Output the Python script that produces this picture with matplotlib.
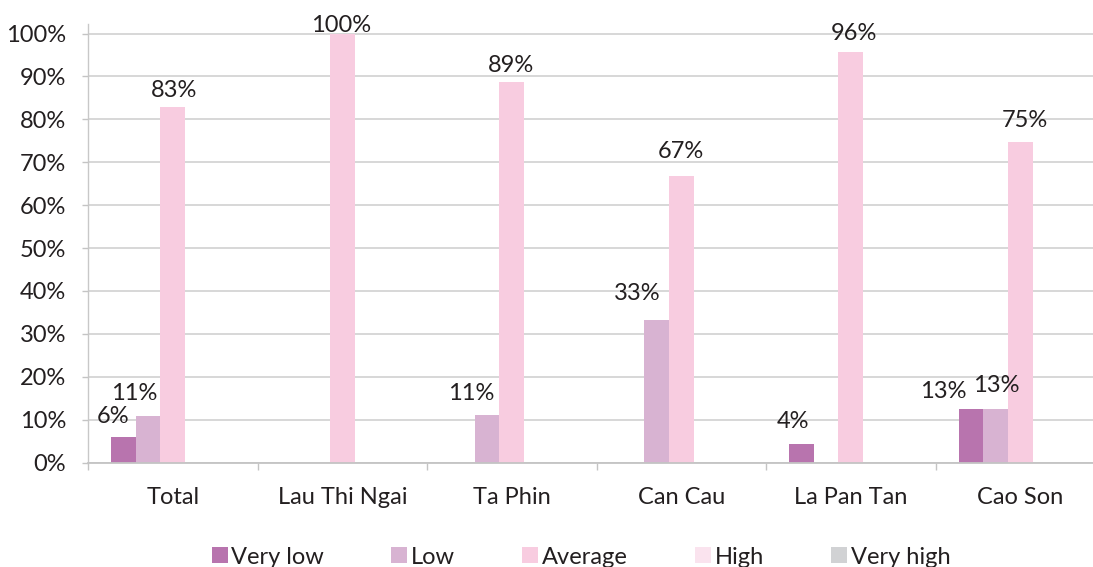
import matplotlib
matplotlib.use("Agg")
import matplotlib.pyplot as plt
from matplotlib.patches import Patch
from matplotlib.ticker import FixedLocator

# ---------------- data ----------------
categories = ["Total", "Lau Thi Ngai", "Ta Phin", "Can Cau", "La Pan Tan", "Cao Son"]
series_names = ["Very low", "Low", "Average", "High", "Very high"]
very_low = [5.9, 0, 0, 0, 4.4, 12.5]
low = [10.9, 0, 11.1, 33.3, 0, 12.5]
average = [82.9, 100, 88.7, 66.7, 95.8, 74.8]
high = [0, 0, 0, 0, 0, 0]
very_high = [0, 0, 0, 0, 0, 0]
y_ticks = list(range(0, 101, 10))

# ---------------- style ----------------
colors = ["#b874ae", "#d8b3d2", "#f8cce0", "#fae3ee", "#d1d2d4"]
text_color = "#231f20"
FONT = ["Lato", "DejaVu Sans"]
FS = 17
plt.rcParams["font.family"] = FONT

# label nudges (pixels) relative to the bar top centre: (series, category) -> (dx, dy)
label_nudge = {
    (0, 0): (-10, 21), (1, 0): (-14, 22), (2, 0): (1, 16),
    (2, 1): (-1, 8),
    (1, 2): (-16, 21), (2, 2): (-1, 17),
    (1, 3): (-19, 26), (2, 3): (0, 25),
    (0, 4): (-8, 22), (2, 4): (3, 18),
    (0, 5): (-28, 17), (1, 5): (1, 23), (2, 5): (5, 21),
}

W, H = 1093, 567
fig = plt.figure(figsize=(W / 100, H / 100), dpi=100)
ax = fig.add_axes([88 / W, 104.5 / H, 1017 / W, 438.6 / H])

series = [very_low, low, average, high, very_high]
bw = 0.1457
n = len(series)
for si, vals in enumerate(series):
    xs = [ci + (si - (n - 1) / 2) * bw for ci in range(len(categories))]
    ax.bar(xs, vals, width=bw, color=colors[si], linewidth=0, zorder=2)
    for ci, (x, v) in enumerate(zip(xs, vals)):
        if v <= 0:
            continue
        dx, dy = label_nudge.get((si, ci), (0, 18))
        ax.annotate(f"{int(v + 0.5)}%", xy=(x, v), xytext=(dx, dy),
                    textcoords="offset pixels", ha="center", va="center",
                    fontsize=FS, color=text_color, zorder=3)

ax.set_xlim(-0.5, len(categories) - 0.5)
ax.set_ylim(0, 102.25)

ax.set_yticks(y_ticks)
ax.set_yticklabels([f"{v}%" for v in y_ticks])
ax.set_xticks(range(len(categories)))
ax.set_xticklabels(categories)
ax.xaxis.set_minor_locator(FixedLocator([i - 0.5 for i in range(len(categories) + 1)]))

ax.tick_params(axis="y", length=4.3, width=1, color="#c4c4c4", pad=11.5,
               labelsize=FS, labelcolor=text_color)
ax.tick_params(axis="x", which="major", length=0, pad=18,
               labelsize=FS, labelcolor=text_color)
ax.tick_params(axis="x", which="minor", length=5, width=1, color="#c4c4c4")

ax.yaxis.grid(True, color="#d4d4d4", linewidth=1.3, zorder=0)
ax.set_axisbelow(True)
for s in ["top", "right"]:
    ax.spines[s].set_visible(False)
ax.spines["bottom"].set_color("#c4c4c4")
ax.spines["bottom"].set_linewidth(1.3)
ax.spines["left"].set_color("#c8c8c8")
ax.spines["left"].set_linewidth(1)

handles = [Patch(facecolor=c, edgecolor="none", label=l) for c, l in zip(colors, series_names)]
fig.legend(handles=handles, loc="center", bbox_to_anchor=(581 / W, 1 - 557 / H),
           ncol=5, frameon=False, fontsize=FS, handlelength=0.68, handleheight=0.64,
           handletextpad=0.15, columnspacing=2.85, borderpad=0, labelcolor=text_color)

fig.savefig("out.png", dpi=100)
